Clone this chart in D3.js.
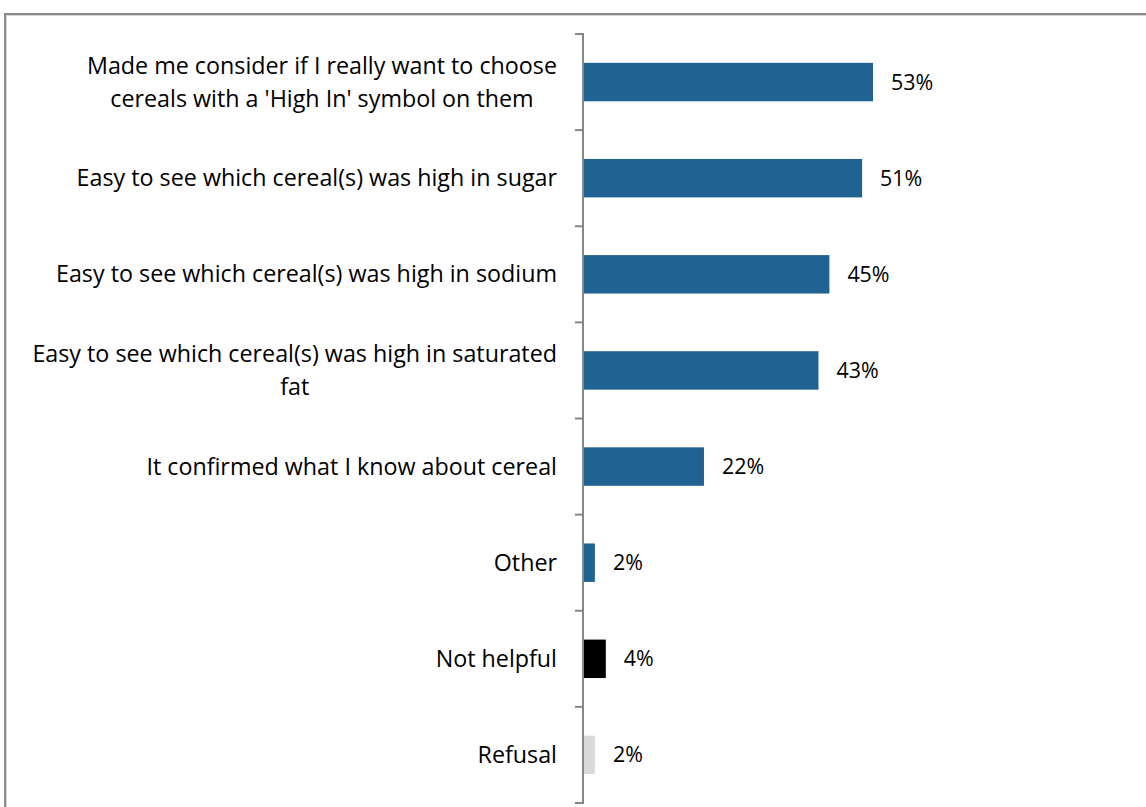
<!DOCTYPE html>
<html>
<head>
<meta charset="utf-8">
<script src="https://cdn.jsdelivr.net/npm/d3@7"></script>
<style>
  html, body { margin: 0; padding: 0; background: #fff; overflow: hidden; }
  svg { display: block; }
  text { font-family: "Open Sans", "Noto Sans", sans-serif; fill: #000; }
</style>
</head>
<body>
<svg id="chart" width="1146" height="807"></svg>
<script>
// Reasons respondents found the 'High In' symbols helpful (% of respondents)
const categories = [
  ["Made me consider if I really want to choose", "cereals with a 'High In' symbol on them"],
  ["Easy to see which cereal(s) was high in sugar"],
  ["Easy to see which cereal(s) was high in sodium"],
  ["Easy to see which cereal(s) was high in saturated", "fat"],
  ["It confirmed what I know about cereal"],
  ["Other"],
  ["Not helpful"],
  ["Refusal"]
];
const values = [53, 51, 45, 43, 22, 2, 4, 2];
const groups = ["helpful", "helpful", "helpful", "helpful", "helpful", "helpful", "not", "refusal"];
const groupColors = { helpful: "#206393", not: "#000000", refusal: "#D9D9D9" };

(function draw() {
  const svg = d3.select("#chart");

  // Size the label font so the widest label line spans the label column
  const labelRight = 557, labelColumn = 525;
  const probe = svg.append("text").attr("font-size", 20)
    .text(d3.greatest(categories.flat(), s => s.length));
  const fontSize = Math.min(24, 20 * labelColumn / probe.node().getComputedTextLength());
  probe.remove();
  const valueFontSize = fontSize * 0.92;

  // Chart frame
  svg.append("rect")
    .attr("x", 5).attr("y", 14)
    .attr("width", 1160).attr("height", 820)
    .attr("fill", "none")
    .attr("stroke", "#8a8a8a")
    .attr("stroke-width", 2);
  svg.append("rect")
    .attr("x", 6.5).attr("y", 15.5)
    .attr("width", 1160).attr("height", 820)
    .attr("fill", "none")
    .attr("stroke", "#d4d4d4")
    .attr("stroke-width", 1);

  const axisX = 583;
  const plotTop = 34, plotBottom = 803;

  const y = d3.scaleBand()
    .domain(d3.range(categories.length))
    .range([plotTop, plotBottom])
    .paddingInner(0.6)
    .paddingOuter(0.3);

  const x = d3.scaleLinear()
    .domain([0, 100])
    .range([axisX + 1, axisX + 1 + 545.3]);

  // Bars
  svg.append("g").selectAll("rect")
    .data(values)
    .join("rect")
    .attr("x", x(0))
    .attr("y", (d, i) => y(i))
    .attr("width", d => x(d) - x(0))
    .attr("height", y.bandwidth())
    .attr("fill", (d, i) => groupColors[groups[i]]);

  // Category axis: vertical line with ticks on band boundaries
  const boundary = d3.scaleLinear().domain([0, categories.length]).range([plotTop, plotBottom]);
  const axisG = svg.append("g");
  axisG.append("line")
    .attr("x1", axisX).attr("x2", axisX)
    .attr("y1", plotTop).attr("y2", plotBottom)
    .attr("stroke", "#868686").attr("stroke-width", 2);
  axisG.selectAll("line.tick")
    .data(d3.range(categories.length + 1))
    .join("line")
    .attr("class", "tick")
    .attr("x1", axisX - 8).attr("x2", axisX + 1)
    .attr("y1", d => boundary(d)).attr("y2", d => boundary(d))
    .attr("stroke", "#868686").attr("stroke-width", 2);

  // Category labels (multi-line labels are centred on each other)
  const lineH = 33;
  const labels = svg.append("g").attr("font-size", fontSize);
  categories.forEach((lines, i) => {
    const cy = y(i) + y.bandwidth() / 2;
    if (lines.length === 1) {
      labels.append("text")
        .attr("x", labelRight).attr("y", cy)
        .attr("dy", "0.35em")
        .attr("text-anchor", "end")
        .text(lines[0]);
    } else {
      const t = labels.append("text")
        .attr("y", cy)
        .attr("text-anchor", "middle");
      const first = t.append("tspan").text(lines[0]);
      const w = first.node().getComputedTextLength();
      const cx = labelRight - w / 2;
      t.selectAll("tspan").remove();
      lines.forEach((ln, k) => {
        t.append("tspan")
          .attr("x", cx)
          .attr("y", cy + (k - (lines.length - 1) / 2) * lineH)
          .attr("dy", "0.35em")
          .text(ln);
      });
    }
  });

  // Value labels
  svg.append("g").attr("font-size", valueFontSize).selectAll("text")
    .data(values)
    .join("text")
    .attr("x", d => x(d) + 18)
    .attr("y", (d, i) => y(i) + y.bandwidth() / 2)
    .attr("dy", "0.35em")
    .text(d => d + "%");
})();
</script>
</body>
</html>
